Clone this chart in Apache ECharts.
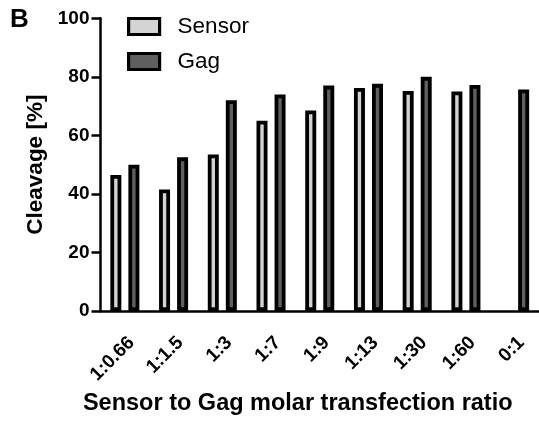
<!DOCTYPE html>
<html>
<head>
<meta charset="utf-8">
<script src="https://cdn.jsdelivr.net/npm/echarts@6/dist/echarts.min.js"></script>
<style>
html,body{margin:0;padding:0;background:#fff;}
#chart{width:539px;height:421px;}
</style>
</head>
<body>
<div id="chart"></div>
<script>
var categories = ['1:0.66', '1:1.5', '1:3', '1:7', '1:9', '1:13', '1:30', '1:60', '0:1'];
var sensorValues = [46.5, 41.5, 53.5, 65, 68.5, 76.2, 75.2, 75, '-'];
var gagValues = [50, 52.5, 72, 74, 77, 77.6, 80, 77.2, 75.7];
var yTicks = {min: 0, max: 100, interval: 20};

var FONT = '"Liberation Sans", Arial, Helvetica, sans-serif';
var chart = echarts.init(document.getElementById('chart'), null, {renderer: 'canvas'});
chart.setOption({
  animation: false,
  backgroundColor: '#ffffff',
  textStyle: {fontFamily: FONT, color: '#000'},
  title: {
    text: 'B', left: 10, top: 7, padding: 0,
    textStyle: {fontFamily: FONT, fontSize: 26, fontWeight: 'bold', color: '#000'}
  },
  legend: {
    orient: 'vertical', left: 127, top: 15, padding: 0,
    itemWidth: 31, itemHeight: 16, itemGap: 12,
    icon: 'rect',
    itemStyle: {borderColor: '#000', borderWidth: 3.2},
    textStyle: {fontFamily: FONT, fontSize: 22.5, color: '#000', lineHeight: 22, padding: [0, 0, 0, 13]},
    data: ['Sensor', 'Gag']
  },
  grid: {left: 100.5, top: 18.3, width: 441, height: 294.4, containLabel: false},
  xAxis: {
    type: 'category',
    data: categories,
    boundaryGap: true,
    name: 'Sensor to Gag molar transfection ratio',
    nameLocation: 'middle',
    nameGap: 81,
    nameTextStyle: {fontFamily: FONT, fontSize: 23.5, fontWeight: 'bold', color: '#000', padding: [0, 44, 0, 0]},
    axisLine: {lineStyle: {color: '#000', width: 2.5}},
    axisTick: {alignWithLabel: true, length: 9, lineStyle: {color: '#000', width: 2.5}},
    axisLabel: {rotate: 45, margin: 22, verticalAlign: 'top', fontFamily: FONT, fontSize: 19, fontWeight: 'bold', color: '#000', interval: 0}
  },
  yAxis: {
    type: 'value',
    min: yTicks.min, max: yTicks.max, interval: yTicks.interval,
    name: 'Cleavage [%]',
    nameLocation: 'middle',
    nameRotate: 90,
    nameGap: 48,
    nameTextStyle: {fontFamily: FONT, fontSize: 22.5, fontWeight: 'bold', color: '#000'},
    axisLine: {show: true, lineStyle: {color: '#000', width: 2.5}},
    axisTick: {show: true, length: 9, lineStyle: {color: '#000', width: 2.5}},
    splitLine: {show: false},
    axisLabel: {margin: 11, fontFamily: FONT, fontSize: 19, fontWeight: 'bold', color: '#000'}
  },
  series: [
    {
      name: 'Sensor', type: 'bar', data: sensorValues,
      barWidth: 11, barGap: '64%',
      itemStyle: {color: '#d4d4d4', borderColor: '#000', borderWidth: 3.8}
    },
    {
      name: 'Gag', type: 'bar', data: gagValues,
      barWidth: 11, barGap: '64%',
      itemStyle: {color: '#5f5f5f', borderColor: '#000', borderWidth: 3.8}
    }
  ]
});
</script>
</body>
</html>
